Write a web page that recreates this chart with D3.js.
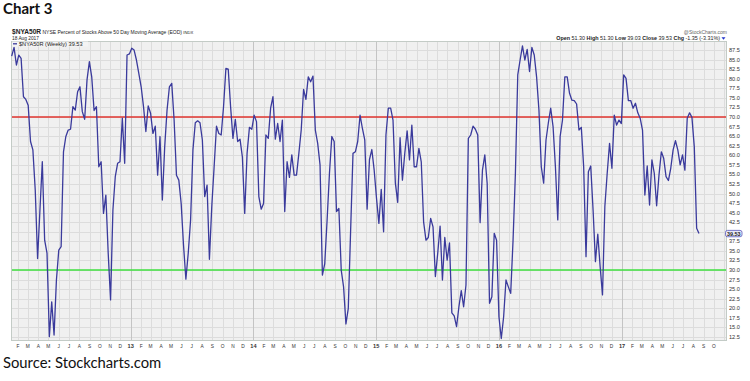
<!DOCTYPE html>
<html><head><meta charset="utf-8">
<script src="https://cdn.jsdelivr.net/npm/d3@7"></script>
<style>body{margin:0;background:#fff}svg{display:block}</style>
</head><body><svg id="c" width="750" height="381"></svg>
<script>
// ---- data ----
const startDate = "2012-01-13"; // first weekly close, then one value per week
const values = [
 85.9, 88.2, 83.6, 86.2, 85.3, 75.3, 74.6, 73.1, 63.6, 61.4,
 50.9, 33.0, 45.7, 58.3, 37.8, 34.4, 12.6, 21.7, 13.0, 27.4,
 35.2, 36.1, 60.9, 64.9, 66.6, 66.8, 72.7, 71.8, 76.6, 77.9,
 71.4, 69.4, 79.7, 84.5, 80.5, 71.7, 72.7, 57.0, 58.3, 44.8,
 49.6, 34.4, 22.2, 45.7, 54.4, 57.9, 58.3, 69.7, 57.9, 86.2,
 86.5, 88.0, 87.5, 84.9, 81.4, 77.9, 72.7, 66.2, 72.9, 71.0,
 65.7, 67.6, 54.8, 64.9, 48.3, 62.2, 71.8, 77.9, 78.8, 69.2,
 54.8, 53.5, 47.4, 36.5, 27.6, 34.4, 43.1, 61.4, 68.5, 69.0,
 68.5, 64.0, 49.2, 52.2, 32.8, 46.6, 57.0, 67.6, 65.7, 65.3,
 72.7, 82.7, 82.5, 72.7, 64.4, 69.4, 63.6, 64.2, 59.6, 44.8,
 60.5, 67.3, 66.8, 70.5, 68.8, 49.2, 45.9, 47.4, 65.3, 64.4,
 72.3, 75.3, 64.2, 68.3, 63.6, 69.2, 45.3, 58.3, 54.2, 60.1,
 54.8, 54.8, 60.5, 66.6, 77.2, 74.6, 80.5, 79.2, 80.7, 66.6,
 63.1, 57.5, 28.7, 31.7, 43.1, 55.3, 64.9, 63.6, 45.3, 46.1,
 30.0, 25.6, 15.9, 20.0, 40.5, 60.5, 60.9, 63.6, 70.5, 67.0,
 64.0, 45.9, 58.9, 61.5, 56.1, 48.7, 42.2, 51.1, 40.0, 65.3,
 72.3, 72.3, 69.2, 52.7, 47.7, 64.6, 53.5, 60.5, 66.4, 58.8,
 67.9, 57.0, 57.0, 61.8, 58.3, 42.6, 37.8, 38.5, 43.5, 41.3,
 28.3, 34.4, 41.5, 27.4, 38.5, 32.6, 37.1, 18.8, 18.0, 15.2,
 20.4, 24.6, 20.4, 26.1, 64.4, 65.3, 67.6, 66.8, 65.3, 42.4,
 56.1, 60.1, 52.7, 21.3, 23.0, 39.6, 37.8, 17.8, 12.1, 17.8,
 27.4, 25.6, 23.9, 37.8, 55.3, 81.0, 84.9, 88.6, 84.9, 87.7,
 81.9, 88.2, 86.2, 80.5, 71.8, 57.0, 52.7, 64.0, 68.5, 72.3,
 67.5, 57.0, 43.1, 64.9, 69.2, 80.5, 80.5, 76.2, 74.4, 74.3,
 73.4, 66.6, 67.3, 57.0, 33.5, 55.7, 57.2, 45.7, 32.2, 39.4,
 30.9, 23.5, 46.6, 55.3, 63.1, 56.6, 70.5, 67.9, 69.2, 68.3,
 81.0, 80.1, 74.3, 74.3, 72.3, 73.6, 71.1, 69.7, 66.6, 49.6,
 57.2, 47.0, 58.8, 55.3, 46.8, 54.8, 60.9, 59.2, 54.4, 53.4,
 56.6, 61.4, 63.8, 61.4, 57.5, 60.1, 56.1, 69.7, 71.1, 69.9,
 62.2, 40.9, 39.53
];
const yTickLabels = ["12.5","15.0","17.5","20.0","22.5","25.0","27.5","30.0","32.5","35.0",
 "37.5","40.0","42.5","45.0","47.5","50.0","52.5","55.0","57.5","60.0","62.5","65.0",
 "67.5","70.0","72.5","75.0","77.5","80.0","82.5","85.0","87.5"];
const monthLetters = ["J","F","M","A","M","J","J","A","S","O","N","D"];
const refLines = [70, 30];
const title = "Chart 3";
const source = "Source: Stockcharts.com";
const symbol = "$NYA50R";
const desc = "NYSE Percent of Stocks Above 50 Day Moving Average (EOD)";
const exch = "INDX";
const dateText = "18 Aug 2017";
const quote = [["Open","51.30"],["High","51.30"],["Low","39.03"],["Close","39.53"],["Chg","-1.35 (-3.31%)"]];
const lastValue = "39.53";

// ---- layout ----
const svg = d3.select("#c");
const P = {l:11, r:727, t:41, b:341};
const font = "'Liberation Sans', Arial, sans-serif";

const t0 = d3.utcParse("%Y-%m-%d")(startDate);
const dates = values.map((v,i)=>d3.utcDay.offset(t0, 7*i));
const xData = d3.scaleUtc().domain([dates[0], dates[dates.length-1]]).range([11.7, 699]);
const x = d3.scaleUtc().domain([xData.invert(P.l), xData.invert(P.r)]).range([P.l, P.r]);
const y = d3.scaleLinear().domain([11.45, 89.87]).range([P.b, P.t]);

svg.append("rect").attr("width",750).attr("height",381).attr("fill","#fff");

// titles
svg.append("text").attr("x",3).attr("y",14).text(title)
  .attr("font-family","Lato, sans-serif").attr("font-weight","bold").attr("font-size",15).attr("fill","#111");
svg.append("text").attr("x",3).attr("y",367.5).text(source)
  .attr("font-family","Lato, sans-serif").attr("font-size",14.8).attr("fill","#111");

// header
const h1 = svg.append("text").attr("x",12).attr("y",33.5).attr("font-family",font).attr("font-size",5.0).attr("fill","#222");
h1.append("tspan").attr("font-weight","bold").attr("font-size",6.6).text(symbol);
h1.append("tspan").text(" " + desc + " ");
h1.append("tspan").attr("font-size",4.2).text(exch);
svg.append("text").attr("x",12).attr("y",39.5).attr("font-family",font).attr("font-size",4.8).attr("fill","#222").text(dateText);
svg.append("text").attr("x",727).attr("y",33.5).attr("text-anchor","end").attr("font-family",font).attr("font-size",5).attr("fill","#666").text("@StockCharts.com");
const q = svg.append("text").attr("x",720).attr("y",39.5).attr("text-anchor","end").attr("font-family",font).attr("font-size",5.4).attr("fill","#222");
quote.forEach(([k,v],i)=>{
  q.append("tspan").attr("font-weight","bold").text((i?"  ":"")+k+" ");
  q.append("tspan").text(v);
});
svg.append("path").attr("d",`M721.5,37.3 L725.5,37.3 L723.5,39.8 Z`).attr("fill","#2233cc");

// plot bg
svg.append("rect").attr("x",P.l).attr("y",P.t).attr("width",P.r-P.l).attr("height",P.b-P.t).attr("fill","#f0f0f0");

const g = svg.append("g");
// horizontal grid
g.selectAll("line.h").data(yTickLabels).join("line")
  .attr("x1",P.l).attr("x2",P.r).attr("y1",d=>Math.round(y(+d))+0.5).attr("y2",d=>Math.round(y(+d))+0.5)
  .attr("stroke","#dcdcdc").attr("stroke-width",1);
// vertical grid
const months = d3.utcMonth.range(x.domain()[0], x.domain()[1]);
g.selectAll("line.v").data(months).join("line")
  .attr("x1",d=>Math.round(x(d))+0.5).attr("x2",d=>Math.round(x(d))+0.5).attr("y1",P.t).attr("y2",P.b)
  .attr("stroke",d=>d.getUTCMonth()===0?"#c4c4c4":"#dcdcdc").attr("stroke-width",1);

// reference lines
svg.append("line").attr("x1",P.l).attr("x2",P.r).attr("y1",y(refLines[0])).attr("y2",y(refLines[0]))
  .attr("stroke","#e0352f").attr("stroke-width",1.6);
svg.append("line").attr("x1",P.l).attr("x2",P.r).attr("y1",y(refLines[1])).attr("y2",y(refLines[1]))
  .attr("stroke","#3fe03f").attr("stroke-width",1.6);

// border
svg.append("rect").attr("x",P.l+0.5).attr("y",P.t+0.5).attr("width",P.r-P.l-1).attr("height",P.b-P.t-1)
  .attr("fill","none").attr("stroke","#c3cbc6");

// series
const line = d3.line().x((d,i)=>xData(dates[i])).y(d=>y(d));
svg.append("path").datum(values).attr("d",line).attr("fill","none")
  .attr("stroke","#3a3a9c").attr("stroke-width",1.3).attr("stroke-linejoin","round");

// legend
const lg = svg.append("g");
lg.append("rect").attr("x",12).attr("y",41.5).attr("width",76).attr("height",5).attr("fill","#f4f4f4");
lg.append("line").attr("x1",13).attr("x2",17).attr("y1",43.8).attr("y2",43.8).attr("stroke","#3a3a9c").attr("stroke-width",1.3);
lg.append("text").attr("x",19).attr("y",45.6).attr("font-family",font).attr("font-size",5.6).attr("fill","#222")
  .text(`${symbol} (Weekly) ${lastValue}`);

// y labels (the one hidden under the last-value tag is not drawn, as in the original)
const ly = y(values[values.length-1]);
svg.selectAll("text.yl").data(yTickLabels.filter(d=>Math.abs(y(+d)-ly)>5)).join("text")
  .attr("x",729).attr("y",d=>y(+d)+2).attr("font-family",font).attr("font-size",5.6).attr("fill","#333").text(d=>d);

// last value tag
svg.append("rect").attr("x",725.5).attr("y",ly-3.2).attr("width",16.5).attr("height",6.4).attr("rx",2)
  .attr("fill","#e8e8f6").attr("stroke","#5555bb").attr("stroke-width",0.8);
svg.append("text").attr("x",733.7).attr("y",ly+2).attr("text-anchor","middle").attr("font-family",font)
  .attr("font-size",5.4).attr("font-weight","bold").attr("fill","#222").text(lastValue);

// x labels
const yrFmt = d3.utcFormat("%y");
svg.selectAll("text.xl").data(months.filter(m=>x(m)>13 && x(m)<722)).join("text")
  .attr("x",d=>x(d)).attr("y",348).attr("text-anchor","middle").attr("font-family",font)
  .attr("font-size",d=>d.getUTCMonth()===0?5.6:4.8).attr("font-weight",d=>d.getUTCMonth()===0?"bold":"normal")
  .attr("fill","#333").text(d=>d.getUTCMonth()===0?yrFmt(d):monthLetters[d.getUTCMonth()]);
</script></body></html>
